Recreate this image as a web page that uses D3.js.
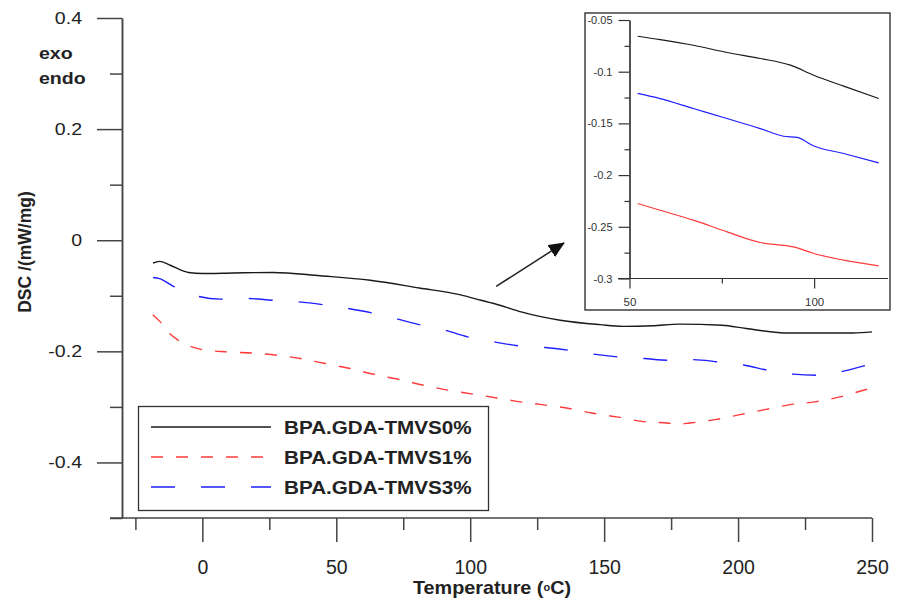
<!DOCTYPE html>
<html>
<head>
<meta charset="utf-8">
<title>DSC curves</title>
<style>
  body { margin: 0; background: #fff; }
  svg text { font-family: "Liberation Sans", Arial, sans-serif; fill: #222; }
  .axis path, .axis line { stroke: #444; stroke-width: 1.5; }
  .inset .axis path, .inset .axis line { stroke: #333; stroke-width: 1.2; }
  .bold { font-weight: bold; }
</style>
</head>
<body>
<svg width="898" height="602"></svg>
<script src="https://d3js.org/d3.v7.min.js"></script>
<script>
// series names
var seriesNames = ["BPA.GDA-TMVS0%", "BPA.GDA-TMVS1%", "BPA.GDA-TMVS3%"];
var seriesColors = ["#1a1a1a", "#ff3b3b", "#1f1fff"];
var seriesDash = [null, "12,13", "24,26"];

// main chart, temperature (C) and DSC (mW/mg)
var t0 = [-18.4, -16, -12, -5.2, 0, 11.6, 26.5, 44, 62.7, 81, 96, 104, 111, 119, 133.6, 148.5, 157, 168, 178, 194, 203, 219, 235, 243, 250];
var v0 = [-0.041, -0.038, -0.045, -0.058, -0.060, -0.059, -0.058, -0.064, -0.072, -0.086, -0.098, -0.108, -0.117, -0.129, -0.144, -0.152, -0.155, -0.154, -0.151, -0.153, -0.159, -0.167, -0.167, -0.167, -0.165];

var t1 = [-18.5, -15.7, -12, -9, -3.9, 0, 9.2, 18.5, 27.9, 36.6, 45.9, 55.2, 64.6, 73.9, 82.6, 91.9, 101, 110, 117.4, 126.8, 136, 145.4, 154.7, 164, 173.4, 178, 182, 191.4, 200.7, 210, 219.4, 228.7, 238, 246.8, 250];
var v1 = [-0.134, -0.147, -0.169, -0.180, -0.192, -0.197, -0.201, -0.203, -0.207, -0.213, -0.222, -0.231, -0.242, -0.251, -0.261, -0.270, -0.277, -0.284, -0.290, -0.296, -0.302, -0.311, -0.318, -0.326, -0.329, -0.331, -0.329, -0.323, -0.314, -0.305, -0.296, -0.291, -0.282, -0.270, -0.266];

var t3 = [-18.4, -16, -10.8, -5, -1.5, 6.7, 17, 26, 35.8, 44.8, 54.5, 63.4, 73, 81, 90.7, 99, 109, 118, 128, 136.6, 146, 155, 165, 174, 183, 192.5, 202.6, 211, 220.5, 230, 239, 248];
var v3 = [-0.067, -0.069, -0.083, -0.094, -0.101, -0.106, -0.105, -0.108, -0.111, -0.116, -0.123, -0.131, -0.142, -0.152, -0.162, -0.174, -0.183, -0.190, -0.193, -0.198, -0.205, -0.210, -0.213, -0.216, -0.215, -0.219, -0.225, -0.234, -0.241, -0.243, -0.236, -0.225];

// inset (zoom 50-120 C)
var it0 = [52.2, 58.3, 67.3, 76.4, 85.4, 93.6, 99.9, 108, 117.5];
var iv0 = [-0.0657, -0.0689, -0.0744, -0.0814, -0.0872, -0.0937, -0.1034, -0.114, -0.1259];
var it1 = [52.2, 58.3, 67.3, 76.4, 85.4, 94.4, 99.9, 108, 117.5];
var iv1 = [-0.2275, -0.234, -0.2436, -0.2549, -0.2652, -0.2694, -0.2758, -0.2823, -0.2878];
var it3 = [52.2, 58.3, 67.3, 76.4, 85.4, 91.7, 95.4, 99.9, 108, 117.5];
var iv3 = [-0.121, -0.126, -0.1356, -0.1453, -0.155, -0.1624, -0.1636, -0.1718, -0.1791, -0.1882];

// ticks
var yMajor = [0.4, 0.2, 0, -0.2, -0.4];
var yMinor = [0.3, 0.1, -0.1, -0.3, -0.5];
var xMajor = [0, 50, 100, 150, 200, 250];
var xMinor = [-25, 25, 75, 125, 175, 225];
var iyMajor = [-0.05, -0.1, -0.15, -0.2, -0.25, -0.3];
var iyMinor = [-0.075, -0.125, -0.175, -0.225, -0.275];
var ixMajor = [50, 100];
var ixMinor = [75];

var svg = d3.select("svg");

var x = d3.scaleLinear().domain([-30, 250]).range([122, 872]);
var y = d3.scaleLinear().domain([-0.5, 0.4]).range([518, 18]);

function pairs(t, v) { return t.map(function(d, i) { return [d, v[i]]; }); }
var mainData = [pairs(t0, v0), pairs(t1, v1), pairs(t3, v3)];
var insetData = [pairs(it0, iv0), pairs(it1, iv1), pairs(it3, iv3)];

// axes
var fmt = function(d) { return String(d); };

svg.append("g").attr("class", "axis")
    .attr("transform", "translate(122,0)")
    .call(d3.axisLeft(y).tickValues(yMinor).tickSize(12).tickSizeOuter(0).tickFormat(""));
var yAx = svg.append("g").attr("class", "axis")
    .attr("transform", "translate(122,0)")
    .call(d3.axisLeft(y).tickValues(yMajor).tickSize(25).tickSizeOuter(0).tickPadding(15).tickFormat(fmt));
yAx.selectAll("text").style("font-size", "17px")
    .attr("x", -40 / 1.15).attr("transform", "scale(1.15,1)");

svg.append("g").attr("class", "axis")
    .attr("transform", "translate(0,518)")
    .call(d3.axisBottom(x).tickValues(xMinor).tickSize(12).tickSizeOuter(0).tickFormat(""))
  .select(".domain").attr("d", "M110,0H872");
var xAx = svg.append("g").attr("class", "axis")
    .attr("transform", "translate(0,518)")
    .call(d3.axisBottom(x).tickValues(xMajor).tickSize(24).tickSizeOuter(0).tickPadding(18).tickFormat(fmt));
xAx.select(".domain").remove();
xAx.selectAll("text").style("font-size", "19.5px");

// curves
var line = d3.line()
    .x(function(d) { return x(d[0]); })
    .y(function(d) { return y(d[1]); })
    .curve(d3.curveMonotoneX);

svg.append("g").selectAll("path")
  .data(mainData)
  .enter().append("path")
    .attr("d", line)
    .attr("fill", "none")
    .attr("stroke", function(d, i) { return seriesColors[i]; })
    .attr("stroke-width", 1.4)
    .attr("stroke-dasharray", function(d, i) { return seriesDash[i]; });

// axis titles
function stretchText(g, tx, ty, sx, str, size) {
  return g.append("text")
      .attr("class", "bold")
      .attr("transform", "translate(" + tx + "," + ty + ") scale(" + sx + ",1)")
      .style("font-size", size + "px")
      .text(str);
}
stretchText(svg, 39, 59, 1.15, "exo", 17);
stretchText(svg, 39, 84, 1.15, "endo", 17);

svg.append("text")
    .attr("class", "bold")
    .attr("transform", "translate(31,252) rotate(-90)")
    .attr("text-anchor", "middle")
    .style("font-size", "17.5px")
    .text("DSC /(mW/mg)");

var xt = svg.append("text")
    .attr("class", "bold")
    .attr("transform", "translate(492,594) scale(1.1,1)")
    .attr("text-anchor", "middle")
    .style("font-size", "18px");
xt.append("tspan").text("Temperature (");
xt.append("tspan").style("font-size", "10px").attr("dy", -3.5).text("o");
xt.append("tspan").attr("dy", 3.5).text("C)");

// legend
var legend = svg.append("g");
legend.append("rect")
    .attr("x", 138.5).attr("y", 406.5).attr("width", 350).attr("height", 104)
    .attr("fill", "#fff").attr("stroke", "#333").attr("stroke-width", 1.3);
seriesNames.forEach(function(name, i) {
  var ly = 427 + i * 30;
  legend.append("line")
      .attr("x1", 151).attr("x2", 271).attr("y1", ly).attr("y2", ly)
      .attr("stroke", seriesColors[i]).attr("stroke-width", 1.4)
      .attr("stroke-dasharray", seriesDash[i]);
  stretchText(legend, 284, ly + 6.5, 1.18, name, 17.5);
});

// arrow
svg.append("defs").append("marker")
    .attr("id", "head")
    .attr("markerUnits", "userSpaceOnUse")
    .attr("markerWidth", 16).attr("markerHeight", 14)
    .attr("refX", 15).attr("refY", 7)
    .attr("orient", "auto")
  .append("path")
    .attr("d", "M0,0L16,7L0,14Z")
    .attr("fill", "#111");
var arrowFrom = [109.7, -0.083], arrowTo = [135, -0.005];
svg.append("line")
    .attr("x1", x(arrowFrom[0])).attr("y1", y(arrowFrom[1]))
    .attr("x2", x(arrowTo[0])).attr("y2", y(arrowTo[1]))
    .attr("stroke", "#222").attr("stroke-width", 1.5)
    .attr("marker-end", "url(#head)");

// inset
var inset = svg.append("g").attr("class", "inset");
inset.append("rect")
    .attr("x", 585).attr("y", 13).attr("width", 305).attr("height", 297)
    .attr("fill", "#fff").attr("stroke", "#333").attr("stroke-width", 1.4);

var ix = d3.scaleLinear().domain([50, 120]).range([629.5, 888]);
var iy = d3.scaleLinear().domain([-0.3, -0.05]).range([278.5, 20]);

inset.append("g").attr("class", "axis")
    .attr("transform", "translate(629.5,0)")
    .call(d3.axisLeft(iy).tickValues(iyMinor).tickSize(5).tickSizeOuter(0).tickFormat(""));
var iyAx = inset.append("g").attr("class", "axis")
    .attr("transform", "translate(629.5,0)")
    .call(d3.axisLeft(iy).tickValues(iyMajor).tickSize(11).tickSizeOuter(0).tickPadding(6).tickFormat(fmt));
iyAx.selectAll("text").style("font-size", "11px").style("fill", "#333");

inset.append("g").attr("class", "axis")
    .attr("transform", "translate(0,278.5)")
    .call(d3.axisBottom(ix).tickValues(ixMinor).tickSize(5).tickSizeOuter(0).tickFormat(""))
  .select(".domain").attr("d", "M618,0H888");
var ixAx = inset.append("g").attr("class", "axis")
    .attr("transform", "translate(0,278.5)")
    .call(d3.axisBottom(ix).tickValues(ixMajor).tickSize(10).tickSizeOuter(0).tickPadding(9).tickFormat(fmt));
ixAx.select(".domain").remove();
ixAx.selectAll("text").style("font-size", "11.5px").style("fill", "#333");

var iline = d3.line()
    .x(function(d) { return ix(d[0]); })
    .y(function(d) { return iy(d[1]); })
    .curve(d3.curveMonotoneX);

inset.append("g").selectAll("path")
  .data(insetData)
  .enter().append("path")
    .attr("d", iline)
    .attr("fill", "none")
    .attr("stroke", function(d, i) { return seriesColors[i]; })
    .attr("stroke-width", 1.2);
</script>
</body>
</html>
